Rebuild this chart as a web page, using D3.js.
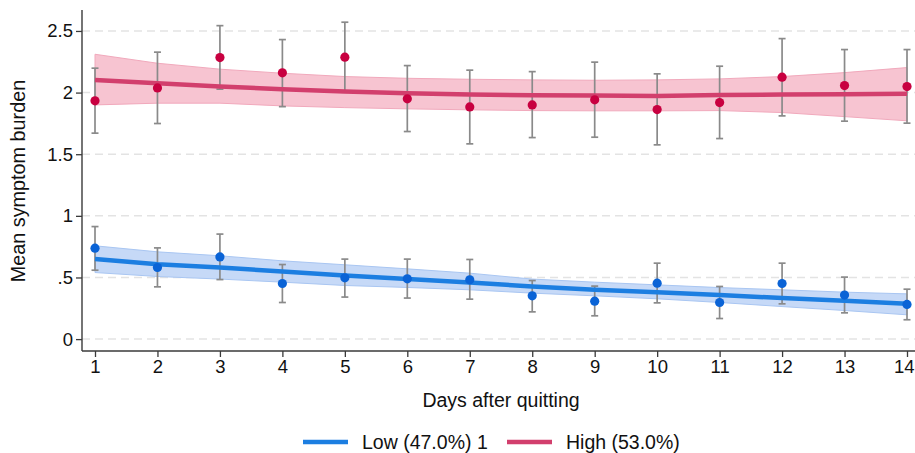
<!DOCTYPE html>
<html>
<head>
<meta charset="utf-8">
<script src="https://cdn.jsdelivr.net/npm/d3@7"></script>
<style>
  body { margin: 0; background: #fff; }
  svg { display: block; }
  text { font-family: Arial, "Liberation Sans", Helvetica, sans-serif; fill: #111; }
</style>
</head>
<body>
<div id="chart"></div>
<script>
// days after quitting
const days = [1, 2, 3, 4, 5, 6, 7, 8, 9, 10, 11, 12, 13, 14];

// observed means with 95% CI - Low class
const lowMean = [0.738, 0.581, 0.667, 0.451, 0.497, 0.489, 0.481, 0.351, 0.308, 0.454, 0.297, 0.451, 0.357, 0.281];
const lowLo   = [0.559, 0.424, 0.483, 0.297, 0.341, 0.333, 0.324, 0.221, 0.189, 0.294, 0.167, 0.286, 0.213, 0.157];
const lowHi   = [0.913, 0.740, 0.852, 0.605, 0.649, 0.649, 0.646, 0.475, 0.430, 0.616, 0.427, 0.616, 0.503, 0.405];

// observed means with 95% CI - High class
const highMean = [1.933, 2.038, 2.284, 2.160, 2.287, 1.949, 1.884, 1.900, 1.941, 1.862, 1.919, 2.125, 2.057, 2.049];
const highLo   = [1.671, 1.749, 2.028, 1.886, 2.003, 1.684, 1.584, 1.635, 1.638, 1.576, 1.627, 1.811, 1.768, 1.752];
const highHi   = [2.198, 2.328, 2.543, 2.430, 2.571, 2.219, 2.182, 2.170, 2.247, 2.152, 2.214, 2.438, 2.349, 2.349];

// fitted trajectories with confidence bands
const lowFit   = [0.649, 0.608, 0.581, 0.548, 0.516, 0.487, 0.459, 0.427, 0.400, 0.381, 0.357, 0.333, 0.311, 0.286];
const lowFitLo = [0.540, 0.508, 0.487, 0.462, 0.435, 0.419, 0.400, 0.373, 0.351, 0.327, 0.297, 0.264, 0.232, 0.197];
const lowFitHi = [0.757, 0.708, 0.676, 0.635, 0.603, 0.570, 0.535, 0.487, 0.462, 0.440, 0.418, 0.400, 0.381, 0.367];

const highFit   = [2.103, 2.076, 2.049, 2.028, 2.008, 1.995, 1.984, 1.979, 1.976, 1.973, 1.981, 1.984, 1.987, 1.990];
const highFitLo = [1.900, 1.914, 1.914, 1.892, 1.878, 1.868, 1.860, 1.854, 1.852, 1.852, 1.854, 1.838, 1.805, 1.771];
const highFitHi = [2.311, 2.238, 2.190, 2.157, 2.130, 2.116, 2.108, 2.103, 2.100, 2.103, 2.111, 2.130, 2.162, 2.203];

// axis ticks
const yTicks = [0, 0.5, 1, 1.5, 2, 2.5];
const yTickLabels = ["0", ".5", "1", "1.5", "2", "2.5"];

const legendLabels = ["Low (47.0%) 1", "High (53.0%)"];

const W = 915, H = 453;
const axisLeftX = 82, axisBottomY = 351;

const svg = d3.select("#chart").append("svg")
  .attr("width", W)
  .attr("height", H);

// scales
const x = d3.scaleLinear().domain([1, 14]).range([95, 907]);
const y = d3.scaleLinear().domain([-0.0965, 2.67]).range([axisBottomY, 10]);

// dashed grid lines
svg.append("g")
  .selectAll("line")
  .data(yTicks)
  .enter()
  .append("line")
    .attr("x1", axisLeftX)
    .attr("x2", W)
    .attr("y1", d => y(d))
    .attr("y2", d => y(d))
    .attr("stroke", "#e3e3e3")
    .attr("stroke-width", 1.5)
    .attr("stroke-dasharray", "8,5");

function makeRows(m, lo, hi, f, flo, fhi) {
  return days.map((d, i) => ({ day: d, m: m[i], lo: lo[i], hi: hi[i], f: f[i], flo: flo[i], fhi: fhi[i] }));
}

const series = [
  { rows: makeRows(lowMean, lowLo, lowHi, lowFit, lowFitLo, lowFitHi),
    band: "#c6d9f7", bandEdge: "#a9c6f2", line: "#1c7ee1", dot: "#0a63d6" },
  { rows: makeRows(highMean, highLo, highHi, highFit, highFitLo, highFitHi),
    band: "#f7c4d1", bandEdge: "#f1a9bc", line: "#d23f6d", dot: "#c80040" }
];

const area = d3.area()
  .x(d => x(d.day))
  .y0(d => y(d.flo))
  .y1(d => y(d.fhi));

const fitLine = d3.line()
  .x(d => x(d.day))
  .y(d => y(d.f));

series.forEach(s => {
  // confidence band
  svg.append("path")
    .datum(s.rows)
    .attr("d", area)
    .attr("fill", s.band)
    .attr("stroke", s.bandEdge)
    .attr("stroke-width", 1);

  // error bars
  const bars = svg.append("g")
    .selectAll("g")
    .data(s.rows)
    .enter()
    .append("g")
      .attr("stroke", "#8a8a8a")
      .attr("stroke-width", 1.7);
  bars.append("line")
    .attr("x1", d => x(d.day)).attr("x2", d => x(d.day))
    .attr("y1", d => y(d.lo)).attr("y2", d => y(d.hi));
  bars.append("line")
    .attr("x1", d => x(d.day) - 3.5).attr("x2", d => x(d.day) + 3.5)
    .attr("y1", d => y(d.lo)).attr("y2", d => y(d.lo));
  bars.append("line")
    .attr("x1", d => x(d.day) - 3.5).attr("x2", d => x(d.day) + 3.5)
    .attr("y1", d => y(d.hi)).attr("y2", d => y(d.hi));

  // fitted line
  svg.append("path")
    .datum(s.rows)
    .attr("d", fitLine)
    .attr("fill", "none")
    .attr("stroke", s.line)
    .attr("stroke-width", 4.5);

  // observed means
  svg.append("g")
    .selectAll("circle")
    .data(s.rows)
    .enter()
    .append("circle")
      .attr("cx", d => x(d.day))
      .attr("cy", d => y(d.m))
      .attr("r", 4.6)
      .attr("fill", s.dot);
});

// y axis
const yAxis = svg.append("g")
  .attr("transform", `translate(${axisLeftX},0)`)
  .call(d3.axisLeft(y).tickValues(yTicks).tickFormat((d, i) => yTickLabels[i]).tickSize(6).tickPadding(3).tickSizeOuter(0));
yAxis.select(".domain").attr("d", `M0,10V${axisBottomY}`);

// x axis
const xAxis = svg.append("g")
  .attr("transform", `translate(0,${axisBottomY})`)
  .call(d3.axisBottom(x).tickValues(days).tickFormat(d3.format("d")).tickSize(6).tickPadding(3).tickSizeOuter(0));
xAxis.select(".domain").attr("d", `M${axisLeftX},0H${W}`);

// last label sits at the right edge, keep it inside the picture
xAxis.selectAll(".tick text")
  .filter(d => d === 14)
  .attr("text-anchor", "end")
  .attr("x", W - 1 - x(14));

svg.selectAll(".domain").attr("stroke", "#3a3a3a").attr("stroke-width", 1.4);
svg.selectAll(".tick line").attr("stroke", "#3a3a3a").attr("stroke-width", 1.3);
svg.selectAll(".tick text")
  .style("font-family", "Arial, 'Liberation Sans', sans-serif")
  .style("font-size", "18.5px")
  .attr("fill", "#111");

// axis titles
svg.append("text")
  .attr("transform", "translate(25,181) rotate(-90)")
  .attr("text-anchor", "middle")
  .style("font-size", "19.8px")
  .text("Mean symptom burden");

svg.append("text")
  .attr("x", 501)
  .attr("y", 407)
  .attr("text-anchor", "middle")
  .style("font-size", "19.5px")
  .text("Days after quitting");

// legend
const legendItems = [
  { label: legendLabels[0], color: series[0].line, x0: 303 },
  { label: legendLabels[1], color: series[1].line, x0: 507 }
];
const legend = svg.append("g")
  .selectAll("g")
  .data(legendItems)
  .enter()
  .append("g")
    .attr("transform", d => `translate(${d.x0},442)`);
legend.append("line")
  .attr("x1", 0).attr("x2", 45)
  .attr("stroke", d => d.color)
  .attr("stroke-width", 4.5);
legend.append("text")
  .attr("x", 59)
  .attr("y", 7)
  .style("font-size", "19.5px")
  .text(d => d.label);
</script>
</body>
</html>
